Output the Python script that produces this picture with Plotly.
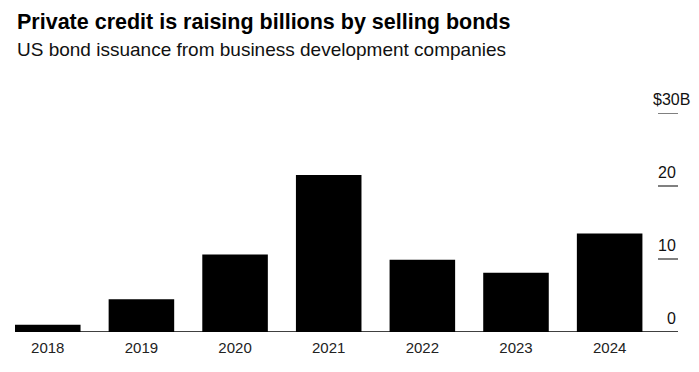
import plotly.graph_objects as go

years = ["2018", "2019", "2020", "2021", "2022", "2023", "2024"]
issuance = [1.0, 4.5, 10.6, 21.5, 9.9, 8.1, 13.5]
tick_vals = [0, 10, 20, 30]
tick_text = ["0", "10", "20", "$30B"]

# page body has an 8px default margin; size the figure so screen positions match
OFF = 8
W, H = 699 - OFF, 372 - OFF
L, R, T, B = 15 - OFF, 21, 113 - OFF, 40
plot_h = H - T - B
plot_w = W - L - R

def py(ypx):
    return (H - B - (ypx - OFF)) / plot_h

FONT = "Liberation Sans, Arial, Helvetica"

fig = go.Figure()
fig.add_trace(go.Bar(x=years, y=issuance, marker=dict(color="#000000", line=dict(width=0)),
                     hoverinfo="x+y"))

shapes = []
for v in tick_vals:
    if v == 0:
        continue
    shapes.append(dict(type="line", xref="paper", yref="y", x0=(658 - 15) / plot_w,
                       x1=1.0, y0=v, y1=v, line=dict(color="#808080", width=2)))
shapes.append(dict(type="line", xref="paper", yref="y", x0=0, x1=1, y0=0, y1=0,
                   line=dict(color="#000000", width=1.5)))

annotations = []
for v, t in zip(tick_vals, tick_text):
    annotations.append(dict(x=1.0, xref="paper", y=v, yref="y", text=t, showarrow=False,
                            xanchor="right", yanchor="middle", yshift=14,
                            xshift=14 if t.endswith("B") else 0,
                            font=dict(family=FONT, size=16, color="#111111")))
annotations.append(dict(x=0, xref="paper", y=py(22), yref="paper", xanchor="left", yanchor="middle",
                        text="<b>Private credit is raising billions by selling bonds</b>", showarrow=False,
                        font=dict(family=FONT, size=21.5, color="#000000")))
annotations.append(dict(x=0, xref="paper", y=py(50), yref="paper", xanchor="left", yanchor="middle",
                        text="US bond issuance from business development companies", showarrow=False,
                        font=dict(family=FONT, size=19, color="#111111")))

fig.update_layout(
    width=W, height=H,
    margin=dict(l=L, r=R, t=T, b=B, pad=0),
    paper_bgcolor="white", plot_bgcolor="white",
    bargap=0.3,
    showlegend=False,
    xaxis=dict(range=[-0.35, 6.73], showgrid=False, showline=False, zeroline=False,
               ticks="", ticklabelstandoff=5,
               tickfont=dict(family=FONT, size=15, color="#222222")),
    yaxis=dict(range=[0, 30], showgrid=False, showline=False, zeroline=False,
               showticklabels=False, ticks=""),
    shapes=shapes,
    annotations=annotations,
)

fig.write_html("out.html")
